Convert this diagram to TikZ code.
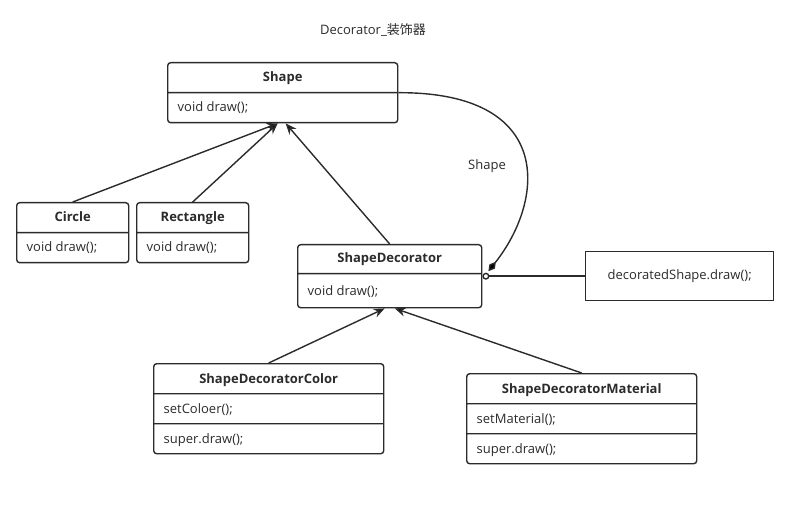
\documentclass[tikz,border=0pt]{standalone}
\usepackage{fontspec}
\setmainfont{Open Sans}
\newfontfamily\cjk{Noto Sans CJK SC}
\usetikzlibrary{shapes.multipart,arrows.meta}
\newcommand{\row}{\rule[-10pt]{0pt}{28.6pt}}
\definecolor{umlline}{HTML}{2B2B2B}
\tikzset{
    umlclass/.style={rectangle split, draw=umlline, line width=1.4pt, rounded corners=3pt,
        inner xsep=10pt, inner ysep=0pt, anchor=north west, font=\fontsize{13}{15}\selectfont,
        text=umlline, rectangle split part align={center,left,left}},
    inherit/.style={-{Stealth[length=11pt,width=9pt]}, line width=1.4pt, draw=umlline},
}
\begin{document}
\begin{tikzpicture}[x=1pt,y=-1pt]
    \useasboundingbox (0,0) rectangle (802,510);
    \node[font=\fontsize{13}{15}\selectfont, text=umlline] (title) at (373,30) {Decorator\_{\cjk 装饰器}};
    % classes
    \node[umlclass, minimum width=230pt, rectangle split parts=2] (shape) at (167,62)
        {\row\textbf{Shape} \nodepart{two} \row void draw();};
    \node[umlclass, minimum width=112pt, rectangle split parts=2] (circle) at (16,202)
        {\row\textbf{Circle} \nodepart{two} \row void draw();};
    \node[umlclass, minimum width=112pt, rectangle split parts=2] (rect) at (136,202)
        {\row\textbf{Rectangle} \nodepart{two} \row void draw();};
    \node[umlclass, minimum width=184pt, rectangle split parts=2] (deco) at (297,244)
        {\rule[-10pt]{0pt}{27.6pt}\textbf{ShapeDecorator} \nodepart{two} \rule[-12pt]{0pt}{32.6pt}void draw();};
    \node[umlclass, minimum width=230pt, rectangle split parts=3] (color) at (153,363)
        {\row\textbf{ShapeDecoratorColor} \nodepart{two} \row setColoer(); \nodepart{three} \row super.draw();};
    \node[umlclass, minimum width=230pt, rectangle split parts=3] (material) at (466,373)
        {\row\textbf{ShapeDecoratorMaterial} \nodepart{two} \row setMaterial(); \nodepart{three} \row super.draw();};
    \node[draw=umlline, line width=1.4pt, minimum width=188pt, minimum height=49pt, anchor=north west,
        font=\fontsize{13}{15}\selectfont, text=umlline] (call) at (585,251) {decoratedShape.draw();};
    % inheritance
    \draw[inherit] (circle.north) -- ([xshift=-5pt]shape.south);
    \draw[inherit] (rect.north) -- ([xshift=-5pt]shape.south);
    \draw[inherit] (deco.north) -- ([xshift=3pt]shape.south);
    \draw[inherit] (color.north) -- ([xshift=-5pt]deco.south);
    \draw[inherit] (material.north) -- ([xshift=5pt]deco.south);
    % aggregation
    \coordinate (agg) at ([xshift=6pt,yshift=5pt]deco.east);
    \draw[-{Diamond[length=12pt,width=7pt]}, line width=1.4pt, draw=umlline]
        (shape.east) .. controls (555,92) and (545,200) .. (agg);
    \node[font=\fontsize{13}{15}\selectfont, text=umlline] (lbl) at (487,166) {Shape};
    \draw[{Circle[open,length=7pt,width=7pt]}-, line width=1.4pt, draw=umlline] (deco.east) -- (call.west);
\end{tikzpicture}
\end{document}
